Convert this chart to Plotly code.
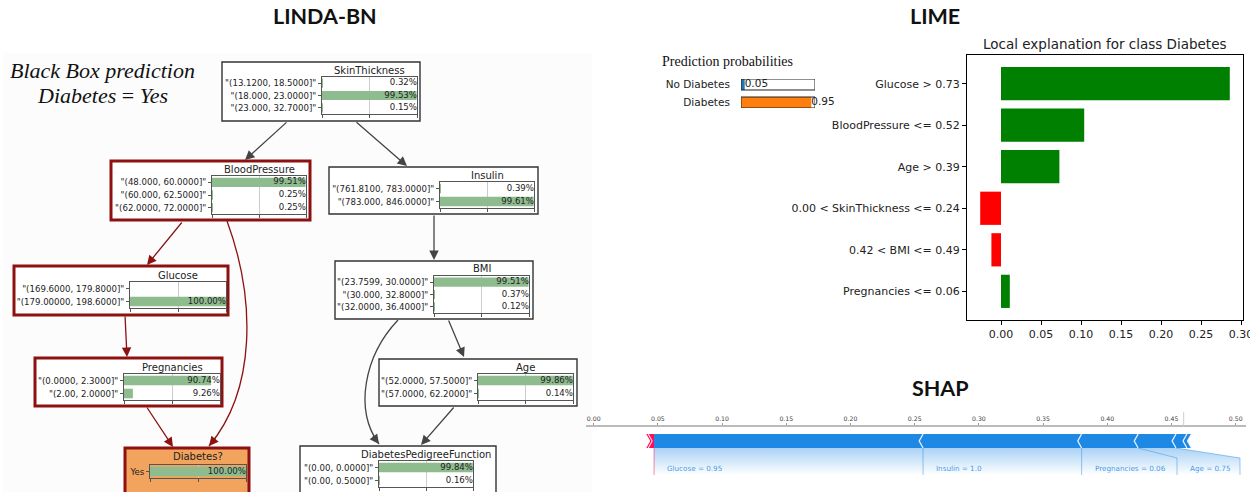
import plotly.graph_objects as go

# ---------------- data ----------------
# LINDA-BN: discretised states and posterior probabilities (%) per node
skin_states = ['"(13.1200, 18.5000]"', '"(18.000, 23.0000]"', '"(23.000, 32.7000]"']
skin_probs = [0.32, 99.53, 0.15]
bp_states = ['"(48.000, 60.0000]"', '"(60.000, 62.5000]"', '"(62.0000, 72.0000]"']
bp_probs = [99.51, 0.25, 0.25]
insulin_states = ['"(761.8100, 783.0000]"', '"(783.000, 846.0000]"']
insulin_probs = [0.39, 99.61]
glucose_states = ['"(169.6000, 179.8000]"', '"(179.00000, 198.6000]"']
glucose_probs = [0.00, 100.00]
bmi_states = ['"(23.7599, 30.0000]"', '"(30.000, 32.8000]"', '"(32.0000, 36.4000]"']
bmi_probs = [99.51, 0.37, 0.12]
preg_states = ['"(0.0000, 2.3000]"', '"(2.00, 2.0000]"']
preg_probs = [90.74, 9.26]
age_states = ['"(52.0000, 57.5000]"', '"(57.0000, 62.2000]"']
age_probs = [99.86, 0.14]
dpf_states = ['"(0.00, 0.0000]"', '"(0.00, 0.5000]"']
dpf_probs = [99.84, 0.16]
diab_states = ['Yes']
diab_probs = [100.00]

bn_edges = [
    ('SkinThickness', 'BloodPressure'), ('SkinThickness', 'Insulin'),
    ('BloodPressure', 'Glucose'), ('BloodPressure', 'Diabetes?'),
    ('Glucose', 'Pregnancies'), ('Pregnancies', 'Diabetes?'),
    ('Insulin', 'BMI'), ('BMI', 'Age'),
    ('BMI', 'DiabetesPedigreeFunction'), ('Age', 'DiabetesPedigreeFunction'),
]
evidence_path = ['BloodPressure', 'Glucose', 'Pregnancies', 'Diabetes?']
target_node = 'Diabetes?'

# LIME
prob_classes = ['No Diabetes', 'Diabetes']
prob_values = [0.05, 0.95]
lime_features = ['Glucose > 0.73', 'BloodPressure <= 0.52', 'Age > 0.39',
                 '0.00 < SkinThickness <= 0.24', '0.42 < BMI <= 0.49', 'Pregnancies <= 0.06']
lime_weights = [0.286, 0.104, 0.073, -0.026, -0.012, 0.011]
lime_ticks = [0.00, 0.05, 0.10, 0.15, 0.20, 0.25, 0.30]

# SHAP force plot
shap_fx = 0.047
shap_pos_values = [0.006]
shap_neg_values = [0.2095, 0.1235, 0.044, 0.0295, 0.0085, 0.0035]
shap_neg_labels = ['Glucose = 0.95', 'Insulin = 1.0', 'Pregnancies = 0.06', 'Age = 0.75', '', '']
shap_ticks = [0.00, 0.05, 0.10, 0.15, 0.20, 0.25, 0.30, 0.35, 0.40, 0.45, 0.50]

# ---------------- layout helpers ----------------
W, H = 1250, 492
FONT = 'DejaVu Sans'


def px(x):
    return x / W


def py(y):
    return 1 - y / H


fig = go.Figure()
axes = {}
counter = [0]


def add_axes(xd, yd, xopts, yopts):
    counter[0] += 1
    k = counter[0]
    sx = '' if k == 1 else str(k)
    xr, yr = 'x' + sx, 'y' + sx
    axes['xaxis' + sx] = dict(domain=[px(xd[0]), px(xd[1])], anchor=yr, **xopts)
    axes['yaxis' + sx] = dict(domain=[py(yd[1]), py(yd[0])], anchor=xr, **yopts)
    return xr, yr


shapes = []
annotations = []


def paper_text(x, y, text, font, xanchor='center'):
    annotations.append(dict(x=px(x), y=py(y), xref='paper', yref='paper', text=text,
                            showarrow=False, xanchor=xanchor, yanchor='middle', font=font))


# ---------------- LINDA-BN ----------------
bn_nodes = {
    'SkinThickness': (skin_states, skin_probs),
    'BloodPressure': (bp_states, bp_probs),
    'Insulin': (insulin_states, insulin_probs),
    'Glucose': (glucose_states, glucose_probs),
    'BMI': (bmi_states, bmi_probs),
    'Pregnancies': (preg_states, preg_probs),
    'Age': (age_states, age_probs),
    'Diabetes?': (diab_states, diab_probs),
    'DiabetesPedigreeFunction': (dpf_states, dpf_probs),
}

node_geom = {
    'SkinThickness': dict(box=(222, 62, 420, 121), area=(322, 77, 417, 114), ty=70),
    'BloodPressure': dict(box=(111, 161, 310, 220), area=(212, 176, 306, 214), ty=169),
    'Insulin': dict(box=(329, 167, 538, 214), area=(440, 182, 534, 208), ty=175),
    'Glucose': dict(box=(14, 266, 228, 315), area=(130, 282, 226, 308), ty=275),
    'BMI': dict(box=(335, 261, 533, 319), area=(434, 276, 529, 313), ty=268),
    'Pregnancies': dict(box=(35, 358, 222, 406), area=(124, 374, 220, 400), ty=367),
    'Age': dict(box=(379, 359, 577, 406), area=(478, 374, 573, 400), ty=367),
    'Diabetes?': dict(box=(125, 448, 249, 498), area=(150, 465, 246, 478), ty=456),
    'DiabetesPedigreeFunction': dict(box=(300, 446, 496, 498), area=(379, 461, 473, 487), ty=454),
}

edge_geom = {
    ('SkinThickness', 'BloodPressure'): [(288, 121), (245, 160)],
    ('SkinThickness', 'Insulin'): [(355, 121), (407, 166)],
    ('BloodPressure', 'Glucose'): [(183, 221), (147, 265)],
    ('BloodPressure', 'Diabetes?'): [(227, 221), (256, 300), (256, 390), (209, 446)],
    ('Glucose', 'Pregnancies'): [(125, 315), (127, 357)],
    ('Pregnancies', 'Diabetes?'): [(146, 406), (173, 447)],
    ('Insulin', 'BMI'): [(434, 214), (434, 260)],
    ('BMI', 'Age'): [(448, 319), (464, 357)],
    ('BMI', 'DiabetesPedigreeFunction'): [(398, 320), (364, 356), (354, 410), (379, 444)],
    ('Age', 'DiabetesPedigreeFunction'): [(455, 406), (421, 445)],
}

RED = '#8e1111'
GREY_EDGE = '#444444'
GREEN = '#8fbc8f'

# faint panel background behind the network
shapes.append(dict(type='rect', xref='paper', yref='paper', x0=px(3), x1=px(592),
                   y0=py(492), y1=py(53), fillcolor='#fcfcfc', line=dict(width=0), layer='below'))

for name, (states, probs) in bn_nodes.items():
    g = node_geom[name]
    bx0, by0, bx1, by1 = g['box']
    on_path = name in evidence_path
    shapes.append(dict(
        type='rect', xref='paper', yref='paper', layer='below',
        x0=px(bx0), x1=px(bx1), y0=py(by1), y1=py(by0),
        fillcolor='#f2a35e' if name == target_node else 'white',
        line=dict(color=RED if on_path else '#333333', width=3 if on_path else 1.4),
    ))
    n = len(states)
    ax0, ay0, ax1, ay1 = g['area']
    xr, yr = add_axes(
        (ax0, ax1), (ay0, ay1),
        dict(range=[0, 100], tickmode='array', tickvals=[0, 50, 100], showticklabels=False,
             ticks='outside', ticklen=3, tickcolor='#555', showgrid=True, gridcolor='#cccccc',
             gridwidth=1, showline=True, linecolor='#555', linewidth=1, mirror=True,
             zeroline=False, fixedrange=True),
        dict(type='category', tickmode='array', tickvals=states, ticktext=states,
             range=[n - 0.5, -0.5], ticks='outside', ticklen=3, tickcolor='#555',
             tickfont=dict(family=FONT, size=8.6, color='#222'), showline=True,
             linecolor='#555', linewidth=1, mirror=True, showgrid=False, zeroline=False,
             fixedrange=True),
    )
    fig.add_trace(go.Bar(x=probs, y=states, orientation='h', xaxis=xr, yaxis=yr,
                         marker=dict(color=GREEN, line=dict(width=0)), width=0.74,
                         hoverinfo='skip', showlegend=False))
    fig.add_trace(go.Scatter(x=[100] * n, y=states, xaxis=xr, yaxis=yr, mode='text',
                             text=[f'{p:.2f}%' if p > 0 else '' for p in probs],
                             textposition='middle left', cliponaxis=False,
                             textfont=dict(family=FONT, size=8.6, color='#222'),
                             hoverinfo='skip', showlegend=False))
    paper_text((ax0 + ax1) / 2, g['ty'], name, dict(family=FONT, size=10, color='#222'))


def bezier_path(pts):
    (x0, y0), (x1, y1), (x2, y2), (x3, y3) = pts
    return (f'M {px(x0)},{py(y0)} C {px(x1)},{py(y1)} {px(x2)},{py(y2)} '
            f'{px(x3)},{py(y3)}')


for src, dst in bn_edges:
    pts = edge_geom[(src, dst)]
    colour = RED if (src in evidence_path and dst in evidence_path) else GREY_EDGE
    head = pts[-1]
    if len(pts) == 4:
        shapes.append(dict(type='path', xref='paper', yref='paper', path=bezier_path(pts),
                           line=dict(color=colour, width=1.3)))
        dx, dy = head[0] - pts[2][0], head[1] - pts[2][1]
        norm = (dx * dx + dy * dy) ** 0.5
        tail = (head[0] - 12 * dx / norm, head[1] - 12 * dy / norm)
    else:
        tail = pts[0]
    annotations.append(dict(x=px(head[0]), y=py(head[1]), xref='paper', yref='paper',
                            ax=tail[0] - head[0], ay=tail[1] - head[1], text='',
                            showarrow=True, arrowhead=2, arrowsize=1.45, arrowwidth=1.3,
                            arrowcolor=colour, standoff=0, startstandoff=0))

TITLE_FONT = dict(family='Lato', size=21.5, color='#111')
paper_text(324.5, 16, '<b>LINDA-BN</b>', TITLE_FONT)
paper_text(102, 71, '<i>Black Box prediction</i>',
           dict(family='Liberation Serif', size=22, color='#111'))
paper_text(102, 96, '<i>Diabetes</i> = <i>Yes</i>',
           dict(family='Liberation Serif', size=22, color='#111'))

# ---------------- LIME ----------------
paper_text(935, 16, '<b>LIME</b>', TITLE_FONT)

# prediction probabilities
xr, yr = add_axes(
    (741, 815), (79, 108),
    dict(range=[0, 1], visible=False, fixedrange=True),
    dict(type='category', tickmode='array', tickvals=prob_classes, ticktext=prob_classes,
         range=[len(prob_classes) - 1 + 0.305, -0.305], ticks='outside', ticklen=8,
         tickcolor='rgba(0,0,0,0)', showline=False, showgrid=False, zeroline=False,
         tickfont=dict(family=FONT, size=10.5, color='#222'), fixedrange=True),
)
fig.add_trace(go.Bar(x=prob_values, y=prob_classes, orientation='h', xaxis=xr, yaxis=yr,
                     marker=dict(color=['#1f77b4', '#ff7f0e'], line=dict(width=0)),
                     width=0.61, hoverinfo='skip', showlegend=False))
fig.add_trace(go.Scatter(x=prob_values, y=prob_classes, xaxis=xr, yaxis=yr, mode='text',
                         text=[f'{v:.2f}' for v in prob_values], textposition='middle right',
                         cliponaxis=False, textfont=dict(family=FONT, size=10.5, color='#222'),
                         hoverinfo='skip', showlegend=False))
for i in range(len(prob_classes)):
    shapes.append(dict(type='rect', xref=xr, yref=yr, x0=0, x1=1, y0=i - 0.305, y1=i + 0.305,
                       line=dict(color='#222', width=1)))
paper_text(660, 62, 'Prediction probabilities',
           dict(family='Liberation Serif', size=14, color='#111'), xanchor='left')

# local explanation bars
n_lime = len(lime_features)
xr, yr = add_axes(
    (967, 1243), (55, 320),
    dict(range=[-0.0425, 0.3025], tickmode='array', tickvals=lime_ticks,
         ticktext=[f'{t:.2f}' for t in lime_ticks], ticks='outside', ticklen=4,
         tickcolor='#000', showline=True, linecolor='#000', linewidth=1, mirror=True,
         showgrid=False, zeroline=False, tickfont=dict(family=FONT, size=11, color='#222'),
         ticklabeloverflow='allow', fixedrange=True),
    dict(type='category', tickmode='array', tickvals=lime_features, ticktext=lime_features,
         range=[n_lime - 1 + 0.69, -0.69], ticks='outside', ticklen=4, tickcolor='#000',
         showline=True, linecolor='#000', linewidth=1, mirror=True, showgrid=False,
         zeroline=False, tickfont=dict(family=FONT, size=11, color='#222'), fixedrange=True),
)
fig.add_trace(go.Bar(x=lime_weights, y=lime_features, orientation='h', xaxis=xr, yaxis=yr,
                     marker=dict(color=['#008000' if w > 0 else '#ff0000' for w in lime_weights],
                                 line=dict(width=0)),
                     width=0.8, hoverinfo='skip', showlegend=False))
paper_text(1105, 44, 'Local explanation for class Diabetes',
           dict(family=FONT, size=13.5, color='#222'))

# ---------------- SHAP ----------------
paper_text(940, 388, '<b>SHAP</b>', TITLE_FONT)

SHAP_PX_PER_UNIT = 1284.0
SHAP_ZERO_PX = 593.7
sx0, sx1 = 586, 1246
xr, yr = add_axes(
    (sx0, sx1), (427, 482),
    dict(range=[(sx0 - SHAP_ZERO_PX) / SHAP_PX_PER_UNIT, (sx1 - SHAP_ZERO_PX) / SHAP_PX_PER_UNIT],
         side='top', tickmode='array', tickvals=shap_ticks,
         ticktext=[f'{t:.2f}' for t in shap_ticks], ticks='outside', ticklen=2,
         tickcolor='#999', showline=True, linecolor='#bbbbbb', linewidth=1.5, showgrid=False,
         zeroline=False, tickfont=dict(family=FONT, size=6.2, color='#444'),
         ticklabeloverflow='allow', fixedrange=True),
    dict(range=[55, 0], visible=False, fixedrange=True),
)


def s_px(xpix):
    return (xpix - SHAP_ZERO_PX) / SHAP_PX_PER_UNIT


BLUE = 'rgb(30,136,229)'
PINK = 'rgb(255,13,87)'
top, bot, mid = 7, 21, 14
depth = 0.003
knee_y, line_end = 31, 48

bounds = [shap_fx]
for v in shap_neg_values:
    bounds.append(bounds[-1] + v)
red_start = shap_fx - sum(shap_pos_values)

# label slots for narrow segments fan out to the right
k1, k2 = s_px(1177), s_px(1240)
regions = [
    ([bounds[0], bounds[1], bounds[1], bounds[0]], [bot, bot, line_end, line_end]),
    ([bounds[1], bounds[2], bounds[2], bounds[1]], [bot, bot, line_end, line_end]),
    ([bounds[2], bounds[3], k1, k1, bounds[2]], [bot, bot, knee_y, line_end, line_end]),
    ([bounds[3], bounds[4], k2, k2, k1, k1], [bot, bot, knee_y, line_end, line_end, knee_y]),
]
for rx, ry in regions:
    fig.add_trace(go.Scatter(x=rx + [rx[0]], y=ry + [ry[0]], xaxis=xr, yaxis=yr, mode='lines',
                             fill='toself', line=dict(width=0, color='rgba(0,0,0,0)'),
                             fillgradient=dict(type='vertical', start=bot, stop=line_end,
                                               colorscale=[[0, 'rgba(30,136,229,0.38)'],
                                                           [1, 'rgba(30,136,229,0)']]),
                             hoverinfo='skip', showlegend=False))

# blue (negative) segments with left-pointing chevrons
for i in range(len(shap_neg_values)):
    a, b = bounds[i], bounds[i + 1]
    if i == 0:
        xs = [a, b, b - depth, b, a, a]
        ys = [top, top, mid, bot, bot, top]
    else:
        xs = [a, b, b - depth, b, a, a - depth, a]
        ys = [top, top, mid, bot, bot, mid, top]
    fig.add_trace(go.Scatter(x=xs, y=ys, xaxis=xr, yaxis=yr, mode='lines', fill='toself',
                             fillcolor=BLUE, line=dict(width=0, color=BLUE),
                             hoverinfo='skip', showlegend=False))
for i in range(1, len(shap_neg_values) + 1):
    b = bounds[i]
    fig.add_trace(go.Scatter(x=[b, b - depth, b], y=[top, mid, bot], xaxis=xr, yaxis=yr,
                             mode='lines', line=dict(color='rgba(235,245,255,0.95)', width=1.3),
                             hoverinfo='skip', showlegend=False))

# red (positive) segment with right-pointing chevrons
fig.add_trace(go.Scatter(x=[red_start, shap_fx, shap_fx, red_start, red_start + depth, red_start],
                         y=[top, top, bot, bot, mid, top], xaxis=xr, yaxis=yr, mode='lines',
                         fill='toself', fillcolor=PINK, line=dict(width=0, color=PINK),
                         hoverinfo='skip', showlegend=False))
m = (red_start + shap_fx) / 2 - depth / 2
fig.add_trace(go.Scatter(x=[m, m + depth, m], y=[top, mid, bot], xaxis=xr, yaxis=yr,
                         mode='lines', line=dict(color='rgba(255,220,230,0.95)', width=1.2),
                         hoverinfo='skip', showlegend=False))

# connector lines from segments down to their labels
conn_lines = [
    ([bounds[1], bounds[1]], [bot, line_end]),
    ([bounds[2], bounds[2]], [bot, line_end]),
    ([bounds[3], k1, k1], [bot, knee_y, line_end]),
    ([bounds[4], k2, k2], [bot, knee_y, line_end]),
]
for lx, ly in conn_lines:
    fig.add_trace(go.Scatter(x=lx, y=ly, xaxis=xr, yaxis=yr, mode='lines',
                             line=dict(color='rgba(30,136,229,0.45)', width=1),
                             hoverinfo='skip', showlegend=False))
fig.add_trace(go.Scatter(x=[shap_fx, shap_fx], y=[bot, line_end], xaxis=xr, yaxis=yr,
                         mode='lines', line=dict(color='rgba(255,13,87,0.5)', width=1),
                         hoverinfo='skip', showlegend=False))

label_x = [bounds[0], bounds[1], bounds[2], k1]
for lx, lab in zip(label_x, shap_neg_labels):
    if lab:
        annotations.append(dict(x=lx, y=41, xref=xr, yref=yr, text=lab, showarrow=False,
                                xanchor='left', xshift=11,
                                font=dict(family=FONT, size=7.2, color='rgba(30,136,229,0.85)')))

# base value marker
base_value = bounds[-1] - sum(shap_pos_values)
shapes.append(dict(type='line', xref=xr, yref='paper', x0=base_value, x1=base_value,
                   y0=py(427), y1=py(412), line=dict(color='#cccccc', width=1)))

fig.update_layout(
    width=W, height=H, margin=dict(l=0, r=0, t=0, b=0),
    template='none', paper_bgcolor='white', plot_bgcolor='white',
    showlegend=False, hovermode=False, font=dict(family=FONT, color='#222'),
    shapes=shapes, annotations=annotations, **axes,
)

fig.write_html('out.html')
